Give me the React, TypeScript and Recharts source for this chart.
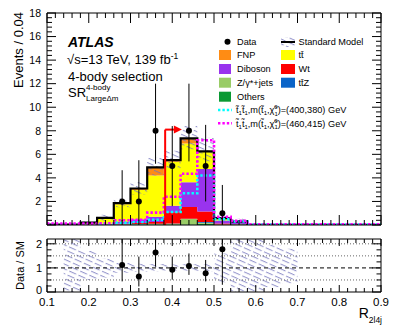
import React from 'react';
import {
  ComposedChart,
  Area,
  Line,
  Scatter,
  ErrorBar,
  XAxis,
  YAxis,
  ReferenceLine,
  ReferenceDot,
} from 'recharts';

const FONT = '"Liberation Sans", Arial, Helvetica, sans-serif';

// low edge of every bin (bin width 0.04), R_2l4j
const binLow = [0.1, 0.14, 0.18, 0.22, 0.26, 0.3, 0.34, 0.38, 0.42, 0.46, 0.5, 0.54, 0.58, 0.62, 0.66, 0.7, 0.74, 0.78, 0.82, 0.86];

// stacked backgrounds, bottom to top
const others = [0.01, 0.01, 0.01, 0.02, 0.03, 0.04, 0.05, 0.05, 0.05, 0.1, 0.02, 0.03, 0.01, 0.01, 0.01, 0.01, 0.01, 0.01, 0.01, 0.01];
const zJets = [0, 0, 0, 0.01, 0.02, 0.03, 0.03, 0.05, 0.45, 0.1, 0.02, 0.02, 0, 0, 0, 0, 0, 0, 0, 0];
const ttZ = [0, 0, 0, 0, 0.01, 0.01, 0.02, 0.03, 0.03, 0.05, 0.01, 0.01, 0, 0, 0, 0, 0, 0, 0, 0];
const wt = [0.01, 0.01, 0.02, 0.03, 0.05, 0.1, 0.15, 0.95, 1.0, 0.9, 0.08, 0.02, 0, 0, 0, 0, 0, 0, 0, 0];
const diboson = [0.01, 0.01, 0.03, 0.05, 0.15, 0.3, 0.45, 0.55, 2.1, 3.6, 0.25, 0.18, 0.01, 0.01, 0.01, 0.01, 0.01, 0.01, 0.01, 0.01];
const ttbar = [0, 0.01, 0.13, 0.46, 1.5, 2.5, 3.5, 3.75, 3.3, 1.45, 0.1, 0.01, 0, 0, 0, 0, 0, 0, 0, 0];
const fnp = [0, 0, 0.01, 0.03, 0.09, 0.12, 0.7, 0.12, 0.42, 0.05, 0.1, 0.01, 0, 0, 0, 0, 0, 0, 0, 0];
const smTotal = [0.03, 0.04, 0.2, 0.6, 1.85, 3.1, 4.9, 5.5, 7.35, 6.25, 0.58, 0.28, 0.02, 0.02, 0.02, 0.02, 0.02, 0.02, 0.02, 0.02];
const smLo = [null, 0, 0.08, 0.35, 1.5, 2.6, 4.2, 4.8, 6.4, 5.4, 0.3, 0, null, null, null, null, null, null, null, null];
const smHi = [null, 0.1, 0.33, 0.88, 2.25, 3.65, 5.7, 6.3, 8.4, 7.4, 0.9, 0.6, null, null, null, null, null, null, null, null];

// signals
const sig400 = [0.03, 0.03, 0.03, 0.1, 0.2, 0.25, 0.45, 1.1, 2.7, 4.2, 0.5, 0.3, 0.03, 0.03, 0.03, 0.03, 0.03, 0.03, 0.03, 0.03];
const sig460 = [0.12, 0.12, 0.12, 0.15, 0.4, 0.45, 1.05, 2.4, 4.35, 7.2, 0.7, 0.35, 0.07, 0.07, 0.07, 0.07, 0.07, 0.07, 0.07, 0.07];

// data
const dataX = [0.28, 0.32, 0.36, 0.4, 0.44, 0.48, 0.52];
const dataY = [2, 2, 8, 5, 8, 5, 1];
const dataLo = [0.3, 0.4, 5.2, 1.6, 5.4, 2.0, 0.06];
const dataHi = [4.65, 5.5, 12, 8.4, 12, 8.5, 3.4];

// ratio panel
const ratioY = [1.12, 0.64, 1.64, 0.92, 1.08, 0.78, 1.77];
const ratioLo = [0.44, 0.23, 1.05, 0.51, 0.71, 0.44, 0.3];
const ratioHi = [2.2, 1.47, 2.2, 1.47, 1.6, 1.33, 2.2];
const ratioBandLo = [null, 0, 0.5, 0.6, 0.8, 0.85, 0.86, 0.88, 0.87, 0.86, 0.4, 0, 0, 0.2, 0.35, null, null, null, null, null];
const ratioBandHi = [null, 2.2, 1.7, 1.4, 1.2, 1.17, 1.16, 1.14, 1.15, 1.16, 1.6, 2.2, 2.2, 1.95, 1.8, null, null, null, null, null];

// cut arrow
const cutX = 0.383;
const cutY = 8.1;
const arrowTip = 0.423;

const xTicks = Array.from({ length: 41 }, (_, i) => Number((0.1 + i * 0.02).toFixed(2)));
const yTopTicks = Array.from({ length: 46 }, (_, i) => Number((i * 0.4).toFixed(1)));
const yRatioTicks = [0, 0.25, 0.5, 0.75, 1, 1.25, 1.5, 1.75, 2];

const C = {
  fnp: '#ff8c14',
  ttbar: '#ffff00',
  diboson: '#9933ee',
  wt: '#ff0000',
  zjets: '#99cc66',
  ttz: '#0a64c8',
  others: '#0a9933',
  hatch: '#7474bc',
};

const edges = [...binLow, 0.9];
const pick = (arr: number[], i: number) => arr[Math.min(i, arr.length - 1)];
// range value at edge i, closing the last filled bin of the run
const band = (lo: (number | null)[], hi: (number | null)[], i: number) => {
  const k = Math.min(i, lo.length - 1);
  if (i < lo.length && lo[k] != null) return [lo[k], hi[k]];
  if (i > 0 && lo[i - 1] != null) return [lo[i - 1], hi[i - 1]];
  return null;
};

const topRows = edges.map((x, i) => ({
  x,
  others: pick(others, i),
  zjets: pick(zJets, i),
  ttz: pick(ttZ, i),
  wt: pick(wt, i),
  diboson: pick(diboson, i),
  ttbar: pick(ttbar, i),
  fnp: pick(fnp, i),
  total: pick(smTotal, i),
  s400: pick(sig400, i),
  s460: pick(sig460, i),
  band: band(smLo, smHi, i),
}));

const ratioRows = edges.map((x, i) => ({ x, band: band(ratioBandLo, ratioBandHi, i) }));

const points = dataX.map((x, i) => ({ x, y: dataY[i], err: [dataY[i] - dataLo[i], dataHi[i] - dataY[i]] }));
const ratioPts = dataX.map((x, i) => ({ x, y: ratioY[i], err: [ratioY[i] - ratioLo[i], ratioHi[i] - ratioY[i]] }));

const near = (v: number, step: number) => Math.abs(v / step - Math.round(v / step)) < 1e-6;

const xTick = (dir: number, major: number, minor: number, labels: boolean) => (p: any) => {
  const v = p.payload.value;
  const big = near(v, 0.1);
  return (
    <g>
      <line x1={p.x} x2={p.x} y1={p.y} y2={p.y + dir * (big ? major : minor)} stroke="#000" />
      {labels && big && (
        <text x={p.x} y={p.y + 13.5} textAnchor="middle" fontSize={11.5} fill="#000">
          {v.toFixed(1)}
        </text>
      )}
    </g>
  );
};

const yTick = (dir: number, step: number, major: number, minor: number, labels: boolean, fs: number, gap: number) => (p: any) => {
  const v = p.payload.value;
  const big = near(v, step);
  return (
    <g>
      <line x1={p.x} x2={p.x + dir * (big ? major : minor)} y1={p.y} y2={p.y} stroke="#000" />
      {labels && big && (v > 0 || step === 1) && (
        <text x={p.x - gap} y={p.y + fs * (v === 0 ? 0.2 : 0.36)} textAnchor="end" fontSize={fs} fill="#000">
          {v}
        </text>
      )}
    </g>
  );
};

const dot = (p: any) => <circle cx={p.cx} cy={p.cy} r={3} fill="#000" />;

const axisCommon = { tickLine: false, tickSize: 0, tickMargin: 0, interval: 0 as const, axisLine: { stroke: '#000' } };

function TopPanel() {
  return (
    <ComposedChart width={399} height={232} data={topRows} margin={{ top: 12, right: 0, bottom: 0, left: 0 }}>
      <XAxis xAxisId="b" dataKey="x" type="number" domain={[0.1, 0.9]} allowDataOverflow ticks={xTicks} height={7} tick={xTick(-1, 10, 5, false)} {...axisCommon} />
      <XAxis xAxisId="t" dataKey="x" orientation="top" type="number" domain={[0.1, 0.9]} allowDataOverflow ticks={xTicks} height={1} tick={xTick(1, 10, 5, false)} {...axisCommon} />
      <YAxis yAxisId="l" type="number" domain={[0, 18]} allowDataOverflow ticks={yTopTicks} width={47} tick={yTick(1, 2, 9, 5, true, 10.5, 6)} {...axisCommon} />
      <YAxis yAxisId="r" orientation="right" type="number" domain={[0, 18]} allowDataOverflow ticks={yTopTicks} width={18} tick={yTick(-1, 2, 9, 5, false, 10, 0)} {...axisCommon} />

      <Area xAxisId="b" yAxisId="l" type="stepAfter" dataKey="others" stackId="sm" fill={C.others} stroke="none" fillOpacity={1} isAnimationActive={false} activeDot={false} />
      <Area xAxisId="b" yAxisId="l" type="stepAfter" dataKey="zjets" stackId="sm" fill={C.zjets} stroke="none" fillOpacity={1} isAnimationActive={false} activeDot={false} />
      <Area xAxisId="b" yAxisId="l" type="stepAfter" dataKey="ttz" stackId="sm" fill={C.ttz} stroke="none" fillOpacity={1} isAnimationActive={false} activeDot={false} />
      <Area xAxisId="b" yAxisId="l" type="stepAfter" dataKey="wt" stackId="sm" fill={C.wt} stroke="none" fillOpacity={1} isAnimationActive={false} activeDot={false} />
      <Area xAxisId="b" yAxisId="l" type="stepAfter" dataKey="diboson" stackId="sm" fill={C.diboson} stroke="none" fillOpacity={1} isAnimationActive={false} activeDot={false} />
      <Area xAxisId="b" yAxisId="l" type="stepAfter" dataKey="ttbar" stackId="sm" fill={C.ttbar} stroke="none" fillOpacity={1} isAnimationActive={false} activeDot={false} />
      <Area xAxisId="b" yAxisId="l" type="stepAfter" dataKey="fnp" stackId="sm" fill={C.fnp} stroke="none" fillOpacity={1} isAnimationActive={false} activeDot={false} />
      <Area xAxisId="b" yAxisId="l" type="stepAfter" dataKey="band" fill="url(#hatch)" stroke="none" fillOpacity={1} isAnimationActive={false} activeDot={false} />

      <Line xAxisId="b" yAxisId="l" type="stepAfter" dataKey="total" stroke="#000" strokeWidth={2.2} dot={false} activeDot={false} isAnimationActive={false} />
      <Line xAxisId="b" yAxisId="l" type="stepAfter" dataKey="s400" stroke="#00ffff" strokeWidth={2.6} strokeDasharray="2.4 2" dot={false} activeDot={false} isAnimationActive={false} />
      <Line xAxisId="b" yAxisId="l" type="stepAfter" dataKey="s460" stroke="#ff00ff" strokeWidth={2.6} strokeDasharray="2.4 2" dot={false} activeDot={false} isAnimationActive={false} />

      <ReferenceLine xAxisId="b" yAxisId="l" segment={[{ x: cutX, y: 0 }, { x: cutX, y: cutY }]} stroke="#ff0000" strokeWidth={2} />
      <ReferenceLine xAxisId="b" yAxisId="l" segment={[{ x: cutX, y: cutY }, { x: arrowTip - 0.015, y: cutY }]} stroke="#ff0000" strokeWidth={2} />
      <ReferenceDot
        xAxisId="b"
        yAxisId="l"
        x={arrowTip}
        y={cutY}
        shape={(p: any) => <polygon points={`${p.cx},${p.cy} ${p.cx - 8},${p.cy - 4} ${p.cx - 8},${p.cy + 4}`} fill="#ff0000" />}
      />

      <Scatter xAxisId="b" yAxisId="l" data={points} dataKey="y" shape={dot} isAnimationActive={false}>
        <ErrorBar dataKey="err" direction="y" width={0} stroke="#000" strokeWidth={1} />
      </Scatter>
    </ComposedChart>
  );
}

function RatioPanel() {
  return (
    <ComposedChart width={399} height={102} data={ratioRows} margin={{ top: 8, right: 0, bottom: 0, left: 0 }}>
      <XAxis xAxisId="b" dataKey="x" type="number" domain={[0.1, 0.9]} allowDataOverflow ticks={xTicks} height={40} tick={xTick(-1, 7, 4, true)} {...axisCommon} />
      <XAxis xAxisId="t" dataKey="x" orientation="top" type="number" domain={[0.1, 0.9]} allowDataOverflow ticks={xTicks} height={1} tick={xTick(1, 7, 4, false)} {...axisCommon} />
      <YAxis yAxisId="l" type="number" domain={[0, 2.2]} allowDataOverflow ticks={yRatioTicks} width={47} tick={yTick(1, 1, 9, 4.5, true, 11, 5)} {...axisCommon} />
      <YAxis yAxisId="r" orientation="right" type="number" domain={[0, 2.2]} allowDataOverflow ticks={yRatioTicks} width={18} tick={yTick(-1, 1, 9, 4.5, false, 11, 0)} {...axisCommon} />

      <Area xAxisId="b" yAxisId="l" type="stepAfter" dataKey="band" fill="url(#hatch)" stroke="none" fillOpacity={1} isAnimationActive={false} activeDot={false} />

      {[0.5, 1.5, 2].map((v) => (
        <ReferenceLine key={v} xAxisId="b" yAxisId="l" y={v} stroke="#666" strokeDasharray="1 2" />
      ))}
      <ReferenceLine xAxisId="b" yAxisId="l" y={1} stroke="#000" strokeDasharray="4 3" />

      <Scatter xAxisId="b" yAxisId="l" data={ratioPts} dataKey="y" shape={dot} isAnimationActive={false}>
        <ErrorBar dataKey="err" direction="y" width={0} stroke="#000" strokeWidth={1} />
      </Scatter>
    </ComposedChart>
  );
}

const legendLeft = [
  { y: 55, label: 'FNP', color: C.fnp },
  { y: 69, label: 'Diboson', color: C.diboson },
  { y: 82.7, label: 'Z/γ*+jets', color: C.zjets },
  { y: 96.7, label: 'Others', color: C.others },
];
const legendRight = [
  { y: 55, label: 'tt\u0304', color: C.ttbar },
  { y: 69, label: 'Wt', color: C.wt },
  { y: 82.7, label: 'tt\u0304Z', color: C.ttz },
];
const signalLegend = [
  { y: 110, color: '#00ffff', mass: '(400,380)' },
  { y: 123.3, color: '#ff00ff', mass: '(460,415)' },
];

function Overlay() {
  const fs = 9.2;
  const t = 't\u0303';
  return (
    <svg width={399} height={332} style={{ position: 'absolute', left: 0, top: 0, pointerEvents: 'none' }}>
      <defs>
        <pattern id="hatch" patternUnits="userSpaceOnUse" width={10} height={4.4} patternTransform="rotate(24)">
          <line x1={0} y1={0.6} x2={7.5} y2={0.6} stroke={C.hatch} strokeWidth={0.85} />
        </pattern>
      </defs>

      <text transform="translate(23,12) rotate(-90)" textAnchor="end" fontSize={13}>Events / 0.04</text>
      <text transform="translate(24,265.5) rotate(-90)" textAnchor="middle" fontSize={11}>Data / SM</text>
      <text x={382} y={318} textAnchor="end" fontSize={14}>
        R<tspan fontSize={8.5} dy={4.5}>2l4j</tspan>
      </text>

      <text x={68} y={47} fontSize={14} fontWeight="bold" fontStyle="italic">ATLAS</text>
      <text x={67} y={64} fontSize={13}>
        √s=13 TeV, 139 fb<tspan fontSize={8.5} dy={-5}>-1</tspan>
      </text>
      <text x={68} y={80.5} fontSize={13}>4-body selection</text>
      <text x={68} y={97} fontSize={13}>SR</text>
      <text x={86} y={89.5} fontSize={8}>4-body</text>
      <text x={86} y={100.5} fontSize={8}>LargeΔm</text>

      <circle cx={227.5} cy={41.7} r={3} fill="#000" />
      <text x={237} y={41.7 + fs * 0.36} fontSize={fs}>Data</text>
      <rect x={281} y={37} width={14} height={10} fill="url(#hatch)" />
      <line x1={281} x2={295} y1={42} y2={42} stroke="#000" strokeWidth={2} />
      <text x={298.5} y={41.7 + fs * 0.36} fontSize={fs}>Standard Model</text>

      {legendLeft.map((d) => (
        <g key={d.label}>
          <rect x={219} y={d.y - 5} width={12} height={10} fill={d.color} />
          <text x={237} y={d.y + fs * 0.36} fontSize={fs}>{d.label}</text>
        </g>
      ))}
      {legendRight.map((d) => (
        <g key={d.label}>
          <rect x={281} y={d.y - 5} width={14} height={10} fill={d.color} />
          <text x={298.5} y={d.y + fs * 0.36} fontSize={fs}>{d.label}</text>
        </g>
      ))}
      {signalLegend.map((d) => (
        <g key={d.mass}>
          <line x1={218} x2={232} y1={d.y} y2={d.y} stroke={d.color} strokeWidth={2.6} strokeDasharray="2.4 2" />
          <text x={236} y={d.y + fs * 0.36} fontSize={fs}>
            {t}<tspan fontSize={6} dy={2}>1</tspan>
            <tspan dy={-2}>{t}</tspan><tspan fontSize={6} dy={2}>1</tspan>
            <tspan dy={-2}>,m({t}</tspan><tspan fontSize={6} dy={2}>1</tspan>
            <tspan dy={-2}>,χ̃</tspan><tspan fontSize={6} dy={2.5}>1</tspan>
            <tspan fontSize={6} dx={-3.4} dy={-6.5}>0</tspan>
            <tspan dy={4}>)={d.mass} GeV</tspan>
          </text>
        </g>
      ))}
    </svg>
  );
}

export default function App() {
  return (
    <div style={{ position: 'absolute', left: 0, top: 0, width: 399, height: 332, background: '#fff', fontFamily: FONT }}>
      <div style={{ position: 'absolute', left: 0, top: 0 }}>
        <TopPanel />
      </div>
      <div style={{ position: 'absolute', left: 0, top: 230 }}>
        <RatioPanel />
      </div>
      <Overlay />
    </div>
  );
}
